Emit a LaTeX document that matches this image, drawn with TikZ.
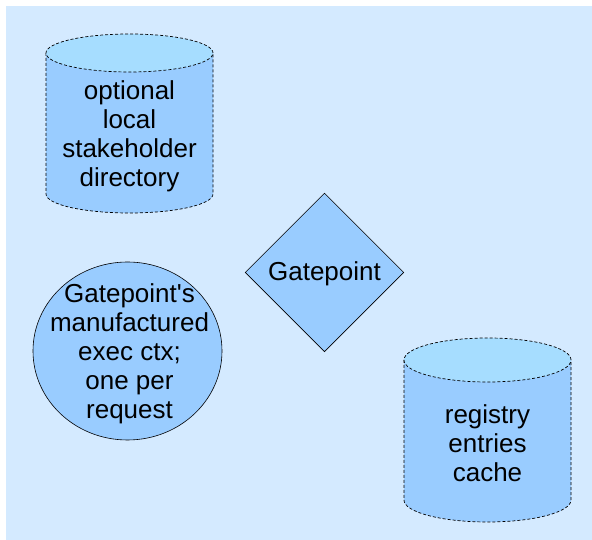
\documentclass[tikz,border=0pt]{standalone}
\usepackage{fontspec}
\setmainfont{Liberation Sans}
\usetikzlibrary{shapes.geometric}
\definecolor{bgblue}{HTML}{D4EAFF}
\definecolor{bodyblue}{HTML}{99CCFF}
\definecolor{topblue}{HTML}{A6DDFF}
\tikzset{
  txt/.style={align=center, inner sep=0pt, font=\fontsize{26}{29}\selectfont},
  dashline/.style={draw=black, line width=0.7pt, dash pattern=on 3pt off 2pt},
  solidline/.style={draw=black, line width=0.6pt},
}
\begin{document}
\begin{tikzpicture}[x=1pt,y=1pt]
\useasboundingbox (0,0) rectangle (592,540);
\fill[bgblue] (6,0) rectangle (592,534);
% cylinder 1
\path[fill=bodyblue, dashline] (46,487) -- (46,346) arc[start angle=180, end angle=360, x radius=83.5, y radius=19] -- (213,487);
\path[fill=topblue, dashline] (129.5,487) ellipse[x radius=83.5, y radius=19];
\node[txt] (dir) at (129.5,404) {optional\\local\\stakeholder\\directory};
% cylinder 2
\path[fill=bodyblue, dashline] (404,180) -- (404,40) arc[start angle=180, end angle=360, x radius=83.5, y radius=22] -- (571,180);
\path[fill=topblue, dashline] (487.5,180) ellipse[x radius=83.5, y radius=22];
\node[txt] (cache) at (487.5,97) {registry\\entries\\cache};
% diamond
\node[diamond, solidline, fill=bodyblue, minimum width=158.6pt, minimum height=158.6pt, inner sep=0pt] (gpshape) at (324.5,267.5) {};
\node[txt] (gp) at (324.5,266) {Gatepoint};
% ellipse
\node[ellipse, solidline, fill=bodyblue, minimum width=189pt, minimum height=178pt, inner sep=0pt] (ctxshape) at (127.5,189) {};
\node[txt] (ctx) at (129.5,186) {Gatepoint\textquotesingle s\\manufactured\\exec ctx;\\one per\\request};
\end{tikzpicture}
\end{document}
